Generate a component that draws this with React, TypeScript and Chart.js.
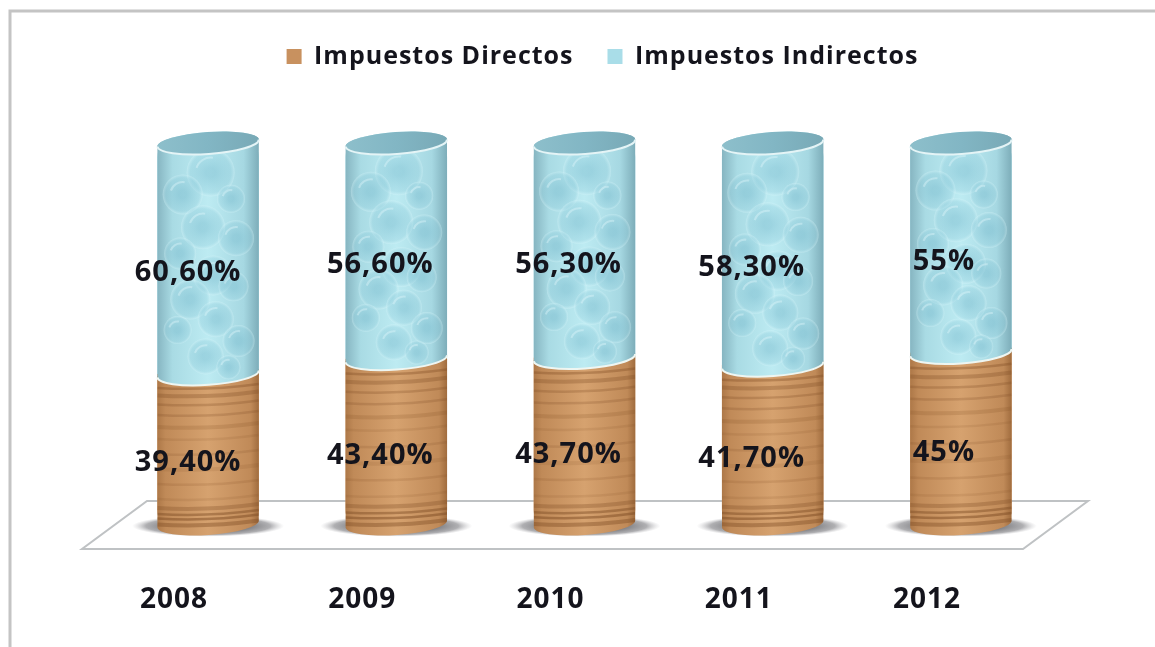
import React, { useEffect, useRef } from "react";
import { Chart, registerables } from "chart.js";

Chart.register(...registerables);

const years = ["2008", "2009", "2010", "2011", "2012"];
const impuestosDirectos = [39.4, 43.4, 43.7, 41.7, 45];
const impuestosIndirectos = [60.6, 56.6, 56.3, 58.3, 55];
const labelShiftX = [-20, -16, -16, -21, -17];

const woodBands = [0.03, 0.07, 0.1, 0.14, 0.2, 0.3, 0.4, 0.5, 0.6, 0.68, 0.76, 0.83, 0.89, 0.94];
const woodAlpha = [0.4, 0.5, 0.45, 0.3, 0.12, 0.15, 0.12, 0.16, 0.12, 0.18, 0.22, 0.26, 0.3, 0.35];
const bubbleU = [0.05, -0.5, 0.45, -0.1, 0.55, -0.55, 0.1, 0.5, -0.35, 0.15, -0.6, 0.6, -0.05, 0.4];
const bubbleV = [0.08, 0.18, 0.2, 0.33, 0.38, 0.45, 0.55, 0.6, 0.66, 0.75, 0.8, 0.85, 0.92, 0.97];
const bubbleR = [24, 20, 14, 22, 18, 16, 20, 15, 20, 18, 14, 16, 18, 12];

const TILT = 0.07;
const RY = 11;

function silhouette(ctx: CanvasRenderingContext2D, cx: number, top: number, bot: number, rx: number) {
  const dy = rx * Math.sin(TILT);
  const dx = rx * Math.cos(TILT);
  ctx.beginPath();
  ctx.moveTo(cx - dx, top + dy);
  ctx.lineTo(cx - dx, bot + dy);
  ctx.ellipse(cx, bot, rx, RY, -TILT, Math.PI, 0, true);
  ctx.lineTo(cx + dx, top - dy);
  ctx.ellipse(cx, top, rx, RY, -TILT, 0, Math.PI, true);
  ctx.closePath();
}

const cylinderPlugin = {
  id: "cylinders",
  beforeUpdate(chart: any) {
    chart.ctx.letterSpacing = "1px";
  },
  beforeDraw(chart: any) {
    chart.ctx.letterSpacing = "1px";
  },
  afterLayout(chart: any) {
    const lg = chart.legend;
    if (lg) {
      lg.left += 18;
      lg.right += 18;
      lg.top -= 64;
      lg.bottom -= 64;
    }
  },
  beforeDatasetsDraw(chart: any) {
    const { ctx, chartArea: a } = chart;
    ctx.save();
    ctx.strokeStyle = "#c4c4c4";
    ctx.lineWidth = 3;
    ctx.beginPath();
    ctx.moveTo(1155, 11);
    ctx.lineTo(10, 11);
    ctx.lineTo(10, 647);
    ctx.stroke();

    ctx.strokeStyle = "#bfc2c4";
    ctx.fillStyle = "#ffffff";
    ctx.lineWidth = 2;
    ctx.beginPath();
    ctx.moveTo(a.left + 33, a.bottom - 23);
    ctx.lineTo(a.right + 33, a.bottom - 23);
    ctx.lineTo(a.right - 32, a.bottom + 25);
    ctx.lineTo(a.left - 32, a.bottom + 25);
    ctx.closePath();
    ctx.fill();
    ctx.stroke();

    chart.getDatasetMeta(0).data.forEach((bar: any) => {
      ctx.save();
      ctx.translate(bar.x, a.bottom + 2);
      ctx.scale(1, 0.14);
      const g = ctx.createRadialGradient(0, 0, 30, 0, 0, 76);
      g.addColorStop(0, "rgba(70,70,75,0.85)");
      g.addColorStop(0.7, "rgba(110,110,115,0.55)");
      g.addColorStop(1, "rgba(170,170,175,0)");
      ctx.fillStyle = g;
      ctx.beginPath();
      ctx.arc(0, 0, 76, 0, Math.PI * 2);
      ctx.fill();
      ctx.restore();
    });
    ctx.restore();
  },
  afterDatasetsDraw(chart: any) {
    const { ctx } = chart;
    const brown = chart.getDatasetMeta(0).data;
    const blue = chart.getDatasetMeta(1).data;
    brown.forEach((b: any, i: number) => {
      const cx = b.x;
      const rx = b.width / 2;
      const h = b.base - b.y;

      ctx.save();
      silhouette(ctx, cx, b.y, b.base, rx);
      ctx.clip();
      const wood = ctx.createLinearGradient(cx - rx, 0, cx + rx, 0);
      wood.addColorStop(0, "#ad7848");
      wood.addColorStop(0.08, "#c08a58");
      wood.addColorStop(0.5, "#d6a26f");
      wood.addColorStop(0.92, "#c08a58");
      wood.addColorStop(1, "#a06c3e");
      ctx.fillStyle = wood;
      ctx.fillRect(cx - rx - 2, b.y - RY - 6, b.width + 4, h + 2 * RY + 12);
      woodBands.forEach((f, k) => {
        const y = b.base - h * f + 3;
        ctx.strokeStyle = `rgba(125,75,35,${woodAlpha[k]})`;
        ctx.lineWidth = k % 3 === 0 ? 4 : 2.5;
        ctx.beginPath();
        ctx.moveTo(cx - rx, y + 2);
        ctx.quadraticCurveTo(cx, y + 5, cx + rx, y - 2);
        ctx.stroke();
      });
      ctx.restore();

      const t = blue[i];
      ctx.save();
      silhouette(ctx, cx, t.y, t.base, rx);
      ctx.clip();
      const water = ctx.createLinearGradient(cx - rx, 0, cx + rx, 0);
      water.addColorStop(0, "#86b5c1");
      water.addColorStop(0.15, "#a9dbe4");
      water.addColorStop(0.5, "#bdebf2");
      water.addColorStop(0.85, "#a6d8e2");
      water.addColorStop(1, "#7dadb9");
      ctx.fillStyle = water;
      ctx.fillRect(cx - rx - 2, t.y - RY - 6, t.width + 4, t.base - t.y + 2 * RY + 12);
      const th = t.base - t.y;
      bubbleU.forEach((u, k) => {
        const x = cx + u * rx;
        const y = t.y + 12 + bubbleV[k] * (th - 12);
        const r = bubbleR[k];
        const g = ctx.createRadialGradient(x, y, r * 0.2, x, y, r);
        g.addColorStop(0, "rgba(125,190,208,0.5)");
        g.addColorStop(0.8, "rgba(140,202,218,0.28)");
        g.addColorStop(1, "rgba(220,248,252,0.35)");
        ctx.fillStyle = g;
        ctx.beginPath();
        ctx.arc(x, y, r, 0, Math.PI * 2);
        ctx.fill();
        ctx.strokeStyle = "rgba(235,252,255,0.35)";
        ctx.lineWidth = 2;
        ctx.beginPath();
        ctx.arc(x, y, r * 0.62, Math.PI * 1.1, Math.PI * 1.55);
        ctx.stroke();
      });
      ctx.restore();

      ctx.save();
      ctx.strokeStyle = "#eef6f2";
      ctx.lineWidth = 2;
      ctx.beginPath();
      ctx.ellipse(cx, t.base, rx, RY, -TILT, 0, Math.PI);
      ctx.stroke();

      const cap = ctx.createLinearGradient(cx - rx, 0, cx + rx, 0);
      cap.addColorStop(0, "#8dbfcb");
      cap.addColorStop(0.5, "#82b6c4");
      cap.addColorStop(1, "#78a9b6");
      ctx.fillStyle = cap;
      ctx.beginPath();
      ctx.ellipse(cx, t.y, rx, RY, -TILT, 0, Math.PI * 2);
      ctx.fill();
      ctx.strokeStyle = "#e4f4f6";
      ctx.lineWidth = 2;
      ctx.beginPath();
      ctx.ellipse(cx, t.y, rx, RY, -TILT, 0, Math.PI);
      ctx.stroke();
      ctx.restore();

      ctx.save();
      ctx.font = '700 29px "Open Sans"';
      ctx.fillStyle = "#14141c";
      ctx.textAlign = "center";
      ctx.textBaseline = "middle";
      const fmt = (v: number) => (Number.isInteger(v) ? `${v}%` : `${v.toFixed(2).replace(".", ",")}%`);
      ctx.fillText(fmt(impuestosDirectos[i]), cx + labelShiftX[i], (b.y + b.base) / 2 + 14);
      ctx.fillText(fmt(impuestosIndirectos[i]), cx + labelShiftX[i], (t.y + t.base) / 2 + 14);
      ctx.restore();
    });
  },
};

export default function App() {
  const ref = useRef<HTMLCanvasElement | null>(null);
  useEffect(() => {
    if (!ref.current) return;
    const chart = new Chart(ref.current, {
      type: "bar",
      data: {
        labels: years,
        datasets: [
          { label: "Impuestos Directos", data: impuestosDirectos, backgroundColor: "#c8915f", borderRadius: { bottomLeft: 14, bottomRight: 14, topLeft: 0, topRight: 0 }, borderSkipped: false },
          { label: "Impuestos Indirectos", data: impuestosIndirectos, backgroundColor: "#a9dde8", borderRadius: { topLeft: 14, topRight: 14, bottomLeft: 0, bottomRight: 0 }, borderSkipped: false },
        ],
      },
      options: {
        responsive: false,
        animation: false,
        layout: { padding: { left: 114, right: 100, top: 74, bottom: 30 } },
        datasets: { bar: { barPercentage: 0.54, categoryPercentage: 1 } },
        plugins: {
          tooltip: { enabled: false },
          legend: {
            position: "top",
            labels: {
              boxWidth: 15,
              boxHeight: 15,
              padding: 34,
              color: "#14141c",
              font: { family: '"Open Sans"', size: 25, weight: "700" },
            },
          },
        },
        scales: {
          y: { stacked: true, display: false, min: 0, max: 100 },
          x: {
            stacked: true,
            afterFit: (s: any) => {
              s.height = 93;
            },
            grid: { display: false },
            border: { display: false },
            ticks: {
              padding: 51,
              labelOffset: -34,
              maxRotation: 0,
              autoSkip: false,
              color: "#14141c",
              font: { family: '"Open Sans"', size: 28, weight: "700" },
            },
          },
        },
      },
      plugins: [cylinderPlugin],
    } as any);
    return () => chart.destroy();
  }, []);
  return (
    <div style={{ position: "absolute", left: 0, top: 0, width: 1155, height: 647, background: "#fff", overflow: "hidden" }}>
      <canvas ref={ref} width={1155} height={647} style={{ display: "block", filter: "blur(0.7px)" }} />
    </div>
  );
}
